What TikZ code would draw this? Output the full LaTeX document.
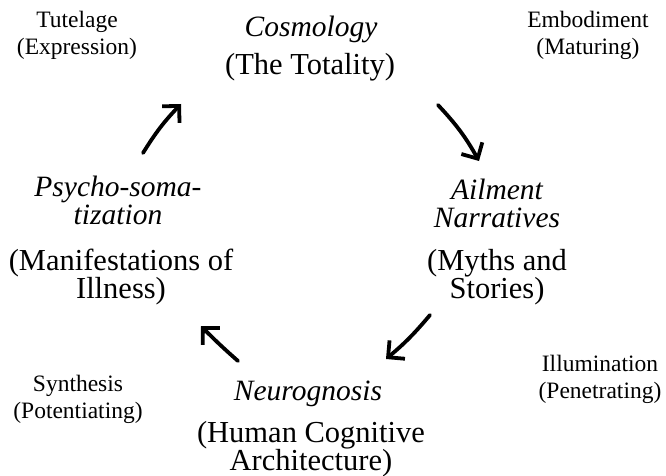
\documentclass[tikz,border=0pt]{standalone}
\usepackage{fontspec}
\setmainfont{Liberation Serif}
\usetikzlibrary{arrows.meta}
\tikzset{
  big/.style={font=\fontsize{30.5}{28}\selectfont, align=center, anchor=base, inner sep=0pt},
  bigit/.style={font=\fontsize{29.5}{28}\selectfont\itshape, align=center, anchor=base, inner sep=0pt},
  small/.style={font=\fontsize{23.5}{27}\selectfont, align=center, anchor=base, inner sep=0pt},
  cyc/.style={line width=3.8pt, line cap=round, -{Straight Barb[length=12pt,width=24pt,line width=3.8pt]}}
}
\begin{document}
\begin{tikzpicture}[x=1pt,y=-1pt]
\useasboundingbox (0,0) rectangle (666,476);
% main blocks (anchor = baseline of last line)
\node[bigit] (cos) at (311,37) {Cosmology};
\node[big] (cosb) at (310,75) {(The Totality)};
\node[bigit] (ail) at (497,227) {Ailment\\Narratives};
\node[big] (ailb) at (497,298) {(Myths and\\Stories)};
\node[bigit] (neu) at (308,400) {Neurognosis};
\node[big] (neub) at (311,470) {(Human Cognitive\\Architecture)};
\node[bigit] (psy) at (118,224) {Psycho-soma-\\tization};
\node[big] (psyb) at (121,298) {(Manifestations of\\Illness)};
% corner labels
\node[small] (tut) at (77,55) {Tutelage\\(Expression)};
\node[small] (emb) at (588,55) {Embodiment\\(Maturing)};
\node[small] (syn) at (78,418) {Synthesis\\(Potentiating)};
\node[small] (ill) at (600,398) {Illumination\\(Penetrating)};
% arrows
\coordinate (a1s) at (143,153); \coordinate (a1e) at (181,104);
\coordinate (a2s) at (438,105); \coordinate (a2e) at (479,161);
\coordinate (a3s) at (430,315); \coordinate (a3e) at (386,359);
\coordinate (a4s) at (238,361); \coordinate (a4e) at (201,326);
\draw[cyc] (a1s) to[bend left=6] (a1e);
\draw[cyc] (a2s) to[bend left=7] (a2e);
\draw[cyc] (a3s) to[bend left=5] (a3e);
\draw[cyc] (a4s) to[bend left=2] (a4e);
\end{tikzpicture}
\end{document}
